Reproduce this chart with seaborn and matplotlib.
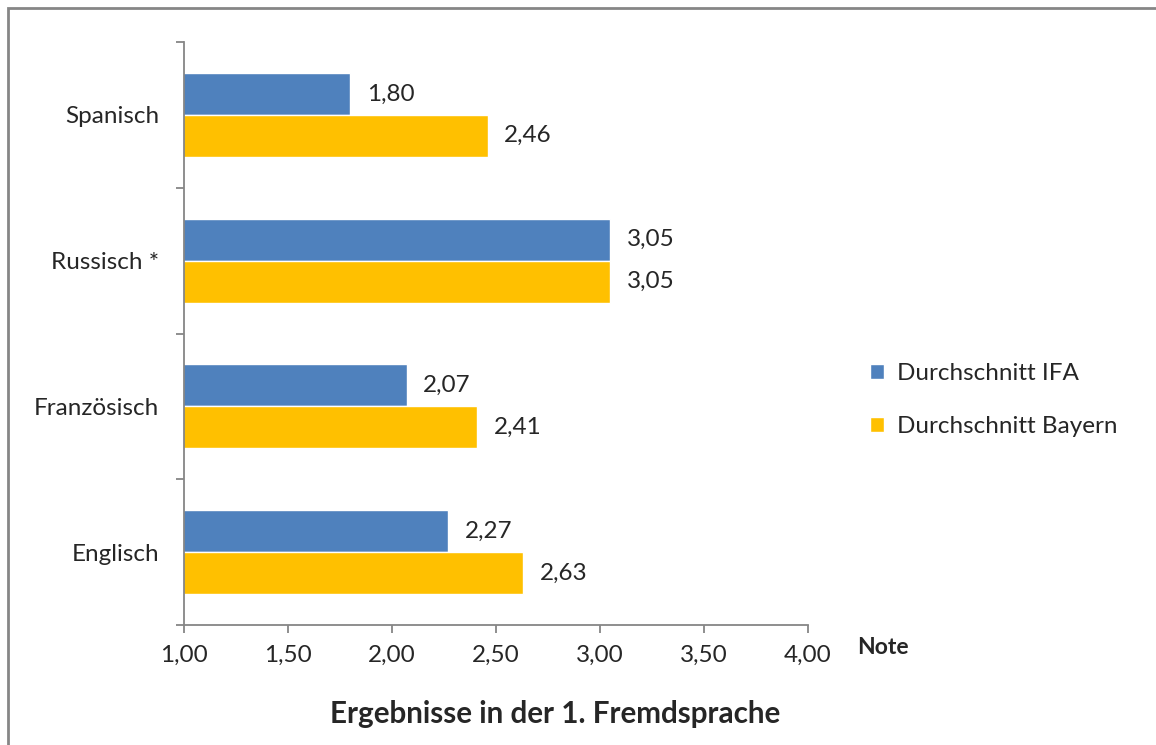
import matplotlib
matplotlib.use("Agg")
import matplotlib.pyplot as plt
import seaborn as sns
import pandas as pd
from matplotlib.patches import Rectangle
from matplotlib.ticker import FixedLocator, FuncFormatter

# data
sprachen = ["Spanisch", "Russisch *", "Französisch", "Englisch"]
ifa = [1.80, 3.05, 2.07, 2.27]
bayern = [2.46, 3.05, 2.41, 2.63]
serien = ["Durchschnitt IFA", "Durchschnitt Bayern"]
farben = ["#4F81BD", "#FFC000"]
x_ticks = [1.0, 1.5, 2.0, 2.5, 3.0, 3.5, 4.0]

df = pd.DataFrame({
    "Sprache": sprachen * 2,
    "Note": ifa + bayern,
    "Serie": [serien[0]] * len(sprachen) + [serien[1]] * len(sprachen),
})

sns.set_style("white")
plt.rcParams["font.family"] = ["Lato", "DejaVu Sans"]
fs = 17.5

fig = plt.figure(figsize=(11.56, 7.45), dpi=100)
ax = fig.add_axes([184 / 1156, 120 / 745, 624 / 1156, 583 / 745])

sns.barplot(data=df, y="Sprache", x="Note", hue="Serie", order=sprachen,
            hue_order=serien, palette=farben, width=0.575, orient="h",
            saturation=1, ax=ax, legend=True)

ax.set_xlim(1, 4)
ax.set_ylim(len(sprachen) - 0.5, -0.5)
ax.set_xticks(x_ticks)
ax.xaxis.set_major_formatter(FuncFormatter(lambda v, p: f"{v:.2f}".replace(".", ",")))
ax.tick_params(axis="x", length=6, width=1.3, color="#868686", pad=8, labelsize=fs, bottom=True)
ax.tick_params(axis="y", which="major", length=0, pad=18, labelsize=fs)
ax.yaxis.set_minor_locator(FixedLocator([i - 0.5 for i in range(len(sprachen) + 1)]))
ax.tick_params(axis="y", which="minor", length=6, width=1.3, color="#868686", left=True)
ax.set_xlabel("")
ax.set_ylabel("")

for s in ["top", "right"]:
    ax.spines[s].set_visible(False)
for s in ["left", "bottom"]:
    ax.spines[s].set_color("#868686")
    ax.spines[s].set_linewidth(1.3)

for cont in ax.containers:
    ax.bar_label(cont, labels=[f"{v:.2f}".replace(".", ",") for v in cont.datavalues],
                 padding=12, fontsize=fs)

handles, labels = ax.get_legend_handles_labels()
ax.get_legend().remove()
fig.legend(handles, labels, loc="center left", bbox_to_anchor=(848 / 1156, 1 - 400 / 745),
           frameon=False, fontsize=fs, handlelength=0.6, handleheight=0.6,
           handletextpad=0.5, labelspacing=1.3)

fig.text(857 / 1156, 1 - 647 / 745, "Note", fontsize=16.5, fontweight="bold", va="center")
fig.text(555 / 1156, 1 - 714 / 745, "Ergebnisse in der 1. Fremdsprache", fontsize=21.3,
         fontweight="bold", ha="center", va="center")

fig.patches.append(Rectangle((8 / 1156, -0.05), 1.1, 1 - 8 / 745 + 0.05,
                             transform=fig.transFigure, fill=False,
                             edgecolor="#868686", linewidth=2))

fig.savefig("out.png", dpi=100)
